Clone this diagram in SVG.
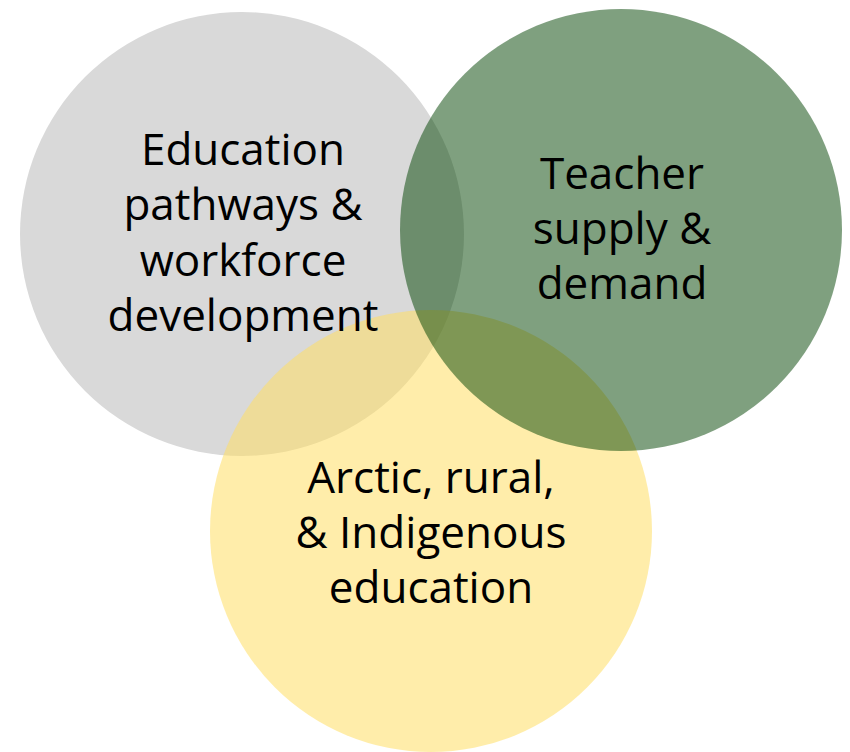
<svg xmlns="http://www.w3.org/2000/svg" width="850" height="752" viewBox="0 0 850 752">
  <style>
    .lbl { font-family: "Open Sans", "Liberation Sans", sans-serif; font-size: 44px; fill: #000000; text-anchor: middle; }
  </style>
  <rect width="850" height="752" fill="#ffffff"/>
  <g id="node-education-pathways">
    <circle cx="242" cy="234" r="222" fill="#d9d9d9"/>
  </g>
  <g id="node-arctic-rural">
    <circle cx="431" cy="531" r="221" fill="rgb(255,222,100)" fill-opacity="0.55"/>
  </g>
  <g id="node-teacher-supply">
    <circle cx="621" cy="230" r="221" fill="rgb(0,65,0)" fill-opacity="0.5"/>
  </g>
  <g id="connectors"></g>
  <g id="labels">
    <text class="lbl" x="243" y="165">Education</text>
    <text class="lbl" x="243" y="220">pathways &amp;</text>
    <text class="lbl" x="243" y="276">workforce</text>
    <text class="lbl" x="243" y="331">development</text>
    <text class="lbl" x="622" y="189">Teacher</text>
    <text class="lbl" x="622" y="244">supply &amp;</text>
    <text class="lbl" x="622" y="299">demand</text>
    <text class="lbl" x="431" y="493">Arctic, rural,</text>
    <text class="lbl" x="431" y="548">&amp; Indigenous</text>
    <text class="lbl" x="431" y="603">education</text>
  </g>
</svg>
